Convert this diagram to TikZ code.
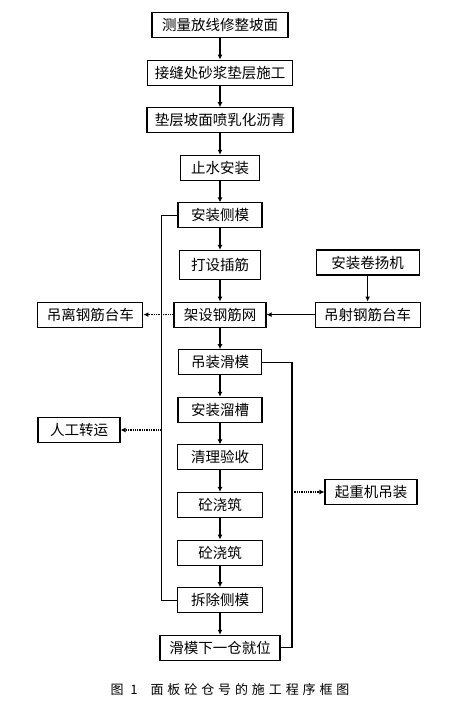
\documentclass[tikz,border=0pt]{standalone}
\usepackage{fontspec}
\setmainfont{Noto Sans CJK SC}
\newfontfamily\capfont[LetterSpace=30]{Noto Sans CJK SC}
\usetikzlibrary{arrows.meta,positioning,calc}

\begin{document}
\begin{tikzpicture}[
  x=1pt, y=-1pt,
  box/.style={draw, line width=1.1pt, minimum height=25pt, inner xsep=5pt, inner ysep=1pt,
              align=center, font=\fontsize{14.5}{16}\selectfont},
  arr/.style={-{Latex[length=5pt,width=5pt]}, line width=1.3pt},
  dotarr/.style={-{Latex[length=5pt,width=5pt]}, line width=1.3pt, densely dotted},
  bar/.style={line width=1.3pt},
  node distance=21.5pt
]
\useasboundingbox (0,0) rectangle (461,702);

% main column
\node[box, minimum width=136pt] (celiang) at (220,25) {测量放线修整坡面};
\node[box, minimum width=145pt, below=of celiang] (jiefeng) {接缝处砂浆垫层施工};
\node[box, minimum width=146pt, below=of jiefeng] (dianceng) {垫层坡面喷乳化沥青};
\node[box, minimum width=79pt, below=of dianceng] (zhishui) {止水安装};
\node[box, minimum width=84pt, below=of zhishui] (cemo) {安装侧模};
\node[box, minimum width=81pt, minimum height=29pt, below=of cemo] (chajin) {打设插筋};
\node[box, minimum width=92pt, below=of chajin] (gangjin) {架设钢筋网};
\node[box, minimum width=83pt, below=of gangjin] (huamo) {吊装滑模};
\node[box, minimum width=84pt, below=of huamo] (liucao) {安装溜槽};
\node[box, minimum width=85pt, below=of liucao] (yanshou) {清理验收};
\node[box, minimum width=85pt, below=of yanshou] (jiaozhuA) {砼浇筑};
\node[box, minimum width=85pt, below=of jiaozhuA] (jiaozhuB) {砼浇筑};
\node[box, minimum width=85pt, below=of jiaozhuB] (chaichu) {拆除侧模};
\node[box, minimum width=120pt, below=of chaichu] (jiuwei) {滑模下一仓就位};

% side boxes
\node[box, minimum width=105pt, right=48pt of gangjin] (taiche) {吊射钢筋台车};
\node[box, minimum width=103pt, above=26pt of taiche] (juanyang) {安装卷扬机};
\node[box, minimum width=105pt, left=30pt of gangjin] (diaoli) {吊离钢筋台车};
\node[box, minimum width=82pt] (rengong) at (79,430) {人工转运};
\node[box, minimum width=92pt] (qizhong) at (371,492) {起重机吊装};

% main flow
\foreach \a/\b in {celiang/jiefeng,jiefeng/dianceng,dianceng/zhishui,zhishui/cemo,cemo/chajin,
  chajin/gangjin,gangjin/huamo,huamo/liucao,liucao/yanshou,yanshou/jiaozhuA,
  jiaozhuA/jiaozhuB,jiaozhuB/chaichu,chaichu/jiuwei} {
  \draw[arr] (\a) -- (\b);
}

% side flow
\draw[arr] (juanyang) -- (taiche);
\draw[arr] (taiche) -- (gangjin);
\draw[dotarr] (gangjin) -- (diaoli);

% left bracket: side forms
\coordinate (lt) at ($(cemo.west)+(-16,0)$);
\draw[bar] (cemo.west) -- (lt) -- (lt |- chaichu.west) -- (chaichu.west);
\draw[dotarr] (lt |- rengong.east) -- (rengong.east);

% right bracket: slip form
\coordinate (rt) at ($(huamo.east)+(30,0)$);
\draw[bar] (huamo.east) -- (rt) -- (rt |- jiuwei.east) -- (jiuwei.east);
\draw[dotarr] (rt |- qizhong.west) -- (qizhong.west);

\node[font=\capfont\fontsize{13}{15}\selectfont] (caption) at (230,690) {图 1\quad 面板砼仓号的施工程序框图};
\end{tikzpicture}
\end{document}
